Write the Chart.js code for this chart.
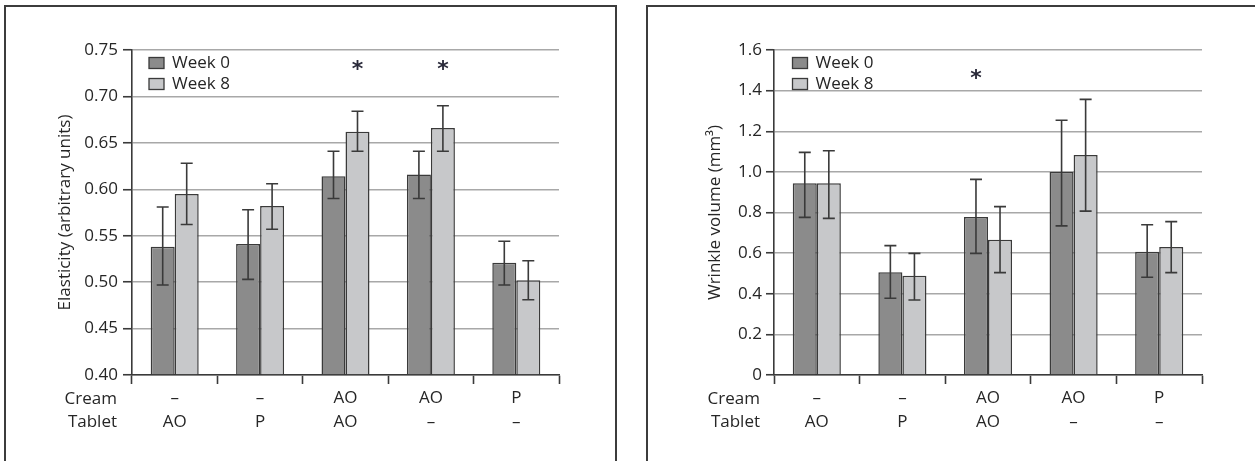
<!DOCTYPE html>
<html>
<head>
<meta charset="utf-8">
<script src="https://cdn.jsdelivr.net/npm/chart.js@4.4.1/dist/chart.umd.min.js"></script>
<style>
  html, body { margin: 0; padding: 0; background: #fff; overflow: hidden; width: 1255px; height: 461px; }
  .frame { position: absolute; border: 2px solid #3c3c3c; box-sizing: border-box; }
  canvas { position: absolute; top: 0; }
</style>
</head>
<body>
<div class="frame" style="left:4px; top:5px; width:613px; height:520px;"></div>
<div class="frame" style="left:646px; top:5px; width:700px; height:520px;"></div>
<canvas id="c1" width="630" height="461" style="left:0px;"></canvas>
<canvas id="c2" width="625" height="461" style="left:630px;"></canvas>
<script>
// ---------- data ----------
const creamLabels  = ['–', '–', 'AO', 'AO', 'P'];
const tabletLabels = ['AO', 'P', 'AO', '–', '–'];
const rowHeaders   = ['Cream', 'Tablet'];
const seriesNames  = ['Week 0', 'Week 8'];

const elastWeek0     = [0.538, 0.541, 0.614, 0.616, 0.521];
const elastWeek0Low  = [0.497, 0.503, 0.590, 0.590, 0.497];
const elastWeek0High = [0.581, 0.578, 0.641, 0.641, 0.544];
const elastWeek8     = [0.595, 0.582, 0.662, 0.666, 0.502];
const elastWeek8Low  = [0.562, 0.557, 0.641, 0.641, 0.481];
const elastWeek8High = [0.628, 0.606, 0.684, 0.690, 0.523];
const elastStarWeek0 = [null, null, null, null, null];
const elastStarWeek8 = [null, null, 0.734, 0.734, null];

const wrinkleWeek0     = [0.944, 0.506, 0.778, 0.999, 0.607];
const wrinkleWeek0Low  = [0.776, 0.378, 0.599, 0.734, 0.481];
const wrinkleWeek0High = [1.096, 0.637, 0.963, 1.254, 0.740];
const wrinkleWeek8     = [0.944, 0.489, 0.666, 1.083, 0.630];
const wrinkleWeek8Low  = [0.771, 0.369, 0.504, 0.807, 0.504];
const wrinkleWeek8High = [1.104, 0.599, 0.829, 1.357, 0.755];
const wrinkleStarWeek0 = [null, null, 1.48, null, null];
const wrinkleStarWeek8 = [null, null, null, null, null];

// ---------- style ----------
const FONT = '"Open Sans", "Noto Sans", sans-serif';
const FS = 17;
const TEXT = '#262626';
const DARK = '#3a3a3a';
const GRID = '#a8a8a8';
const COL0 = '#8b8b8b';
const COL1 = '#c7c8ca';

Chart.defaults.font.family = FONT;
Chart.defaults.font.size = FS;
Chart.defaults.color = TEXT;

const labels = creamLabels.map((c, i) => [c, tabletLabels[i]]);

const extrasPlugin = {
  id: 'extras',
  afterDatasetsDraw(chart) {
    const ctx = chart.ctx;
    const y = chart.scales.y;
    const ex = chart.options.plugins.extras;
    ctx.save();
    // error bars
    chart.data.datasets.forEach((ds, di) => {
      const meta = chart.getDatasetMeta(di);
      ds.errLow.forEach((lo, i) => {
        const hi = ds.errHigh[i];
        const x = meta.data[i].x;
        const yl = y.getPixelForValue(lo), yh = y.getPixelForValue(hi);
        ctx.strokeStyle = DARK; ctx.lineWidth = 1.6;
        ctx.beginPath();
        ctx.moveTo(x, yl); ctx.lineTo(x, yh);
        ctx.moveTo(x - 6, yl); ctx.lineTo(x + 6, yl);
        ctx.moveTo(x - 6, yh); ctx.lineTo(x + 6, yh);
        ctx.stroke();
      });
      // significance stars
      ctx.font = 'bold 22px "DejaVu Sans"';
      ctx.fillStyle = '#2a2a3a';
      ctx.textAlign = 'center';
      ctx.textBaseline = 'alphabetic';
      const m = ctx.measureText('*');
      ds.stars.forEach((s, i) => {
        if (s === null) return;
        const x = meta.data[i].x;
        const yc = y.getPixelForValue(s);
        ctx.fillText('*', x, yc + (m.actualBoundingBoxAscent - m.actualBoundingBoxDescent) / 2);
      });
    });
    // legend
    const a = chart.chartArea;
    ctx.font = FS + 'px ' + FONT;
    ctx.textAlign = 'left';
    ctx.textBaseline = 'middle';
    chart.data.datasets.forEach((ds, di) => {
      const bx = a.left + ex.legendX, by = a.top + 7.5 + di * 21;
      ctx.fillStyle = ds.backgroundColor;
      ctx.fillRect(bx, by, 15, 11);
      ctx.strokeStyle = DARK; ctx.lineWidth = 1.3;
      ctx.strokeRect(bx, by, 15, 11);
      ctx.fillStyle = TEXT;
      ctx.fillText(ds.label, bx + 23, by + 6);
    });
    // row headers
    ctx.textAlign = 'right';
    rowHeaders.forEach((h, r) => {
      ctx.fillText(h, a.left - ex.headerGap, 399 + r * 23.2);
    });
    ctx.restore();
  }
};

function makeChart(id, cfg) {
  return new Chart(document.getElementById(id), {
    type: 'bar',
    data: {
      labels: labels,
      datasets: [
        { label: seriesNames[0], data: cfg.d0, errLow: cfg.l0, errHigh: cfg.h0, stars: cfg.s0,
          backgroundColor: COL0, borderColor: DARK, borderWidth: 1.5, base: cfg.min },
        { label: seriesNames[1], data: cfg.d1, errLow: cfg.l1, errHigh: cfg.h1, stars: cfg.s1,
          backgroundColor: COL1, borderColor: DARK, borderWidth: 1.5, base: cfg.min }
      ]
    },
    options: {
      responsive: false,
      animation: false,
      devicePixelRatio: 1,
      datasets: { bar: { categoryPercentage: 0.562, barPercentage: 1.0 } },
      layout: { padding: { left: 0, top: 50, right: cfg.padRight, bottom: 0 } },
      plugins: {
        legend: { display: false },
        tooltip: { enabled: false },
        extras: { legendX: cfg.legendX, headerGap: cfg.headerGap }
      },
      scales: {
        x: {
          offset: true,
          grid: { offset: true, drawOnChartArea: false, drawTicks: true, tickLength: 9,
                  tickColor: DARK, tickWidth: 1.6 },
          border: { display: true, color: DARK, width: 1.6 },
          ticks: { font: { size: FS, lineHeight: 23.2 / FS }, padding: 3, color: TEXT,
                   maxRotation: 0, autoSkip: false },
          afterFit(s) { s.height = 86; }
        },
        y: {
          min: cfg.min, max: cfg.max,
          ticks: { stepSize: cfg.step, padding: cfg.tickPad, color: TEXT, font: { size: FS },
                   callback: cfg.fmt },
          grid: { color: GRID, lineWidth: 1.5, tickColor: DARK, tickLength: cfg.tickLen, tickWidth: 1.6 },
          border: { display: true, color: DARK, width: 1.6 },
          title: { display: true, text: cfg.title, color: TEXT, font: { size: FS },
                   padding: { top: cfg.titleTop, bottom: 0 } },
          afterFit(s) { s.width = cfg.axisWidth; }
        }
      }
    },
    plugins: [extrasPlugin]
  });
}

makeChart('c1', {
  d0: elastWeek0, l0: elastWeek0Low, h0: elastWeek0High, s0: elastStarWeek0,
  d1: elastWeek8, l1: elastWeek8Low, h1: elastWeek8High, s1: elastStarWeek8,
  min: 0.4, max: 0.75, step: 0.05, fmt: v => v.toFixed(2),
  title: 'Elasticity (arbitrary units)', titleTop: 54.8, axisWidth: 132, padRight: 71,
  tickLen: 9, tickPad: 5, legendX: 17, headerGap: 15
});

makeChart('c2', {
  d0: wrinkleWeek0, l0: wrinkleWeek0Low, h0: wrinkleWeek0High, s0: wrinkleStarWeek0,
  d1: wrinkleWeek8, l1: wrinkleWeek8Low, h1: wrinkleWeek8High, s1: wrinkleStarWeek8,
  min: 0, max: 1.6, step: 0.2, fmt: v => (v === 0 ? '0' : v.toFixed(1)),
  title: 'Wrinkle volume (mm³)', titleTop: 74.8, axisWidth: 144, padRight: 53,
  tickLen: 8, tickPad: 4, legendX: 18.5, headerGap: 14
});
</script>
</body>
</html>
